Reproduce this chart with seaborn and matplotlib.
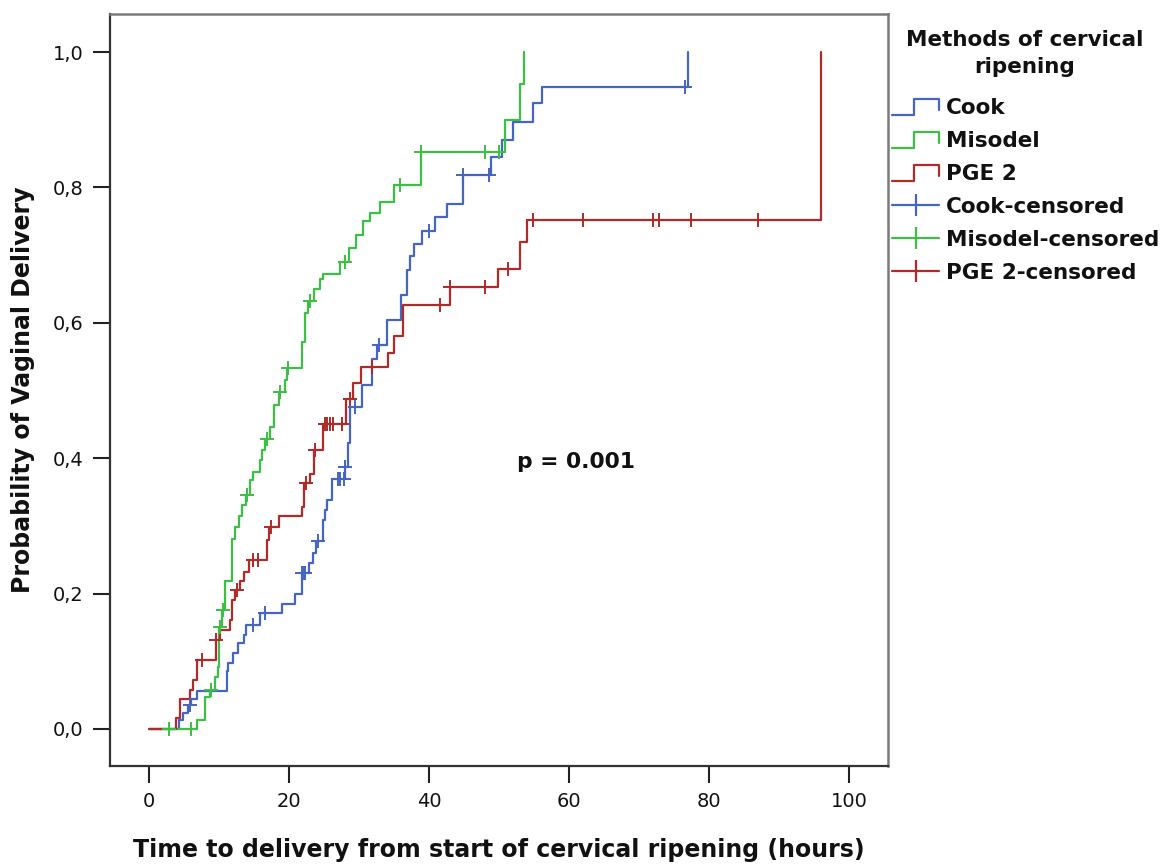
import numpy as np
import pandas as pd
import matplotlib
matplotlib.use("Agg")
import matplotlib.pyplot as plt
from matplotlib.lines import Line2D
from matplotlib.legend_handler import HandlerBase
import seaborn as sns

# ---------------- data ----------------
groups = ["Cook", "Misodel", "PGE 2"]

cook_t = [0, 4.3, 4.9, 5.5, 6.0, 6.9, 11.1, 11.3, 12.0, 12.7, 13.5, 13.9, 15.8, 19.0, 20.9,
          21.9, 22.9, 23.4, 23.9, 24.9, 25.2, 25.4, 26.1, 28.0, 28.4, 28.7, 30.4, 31.8,
          32.6, 34.0, 36.0, 36.8, 37.3, 37.8, 39.0, 40.9, 42.6, 44.9, 48.9, 50.4, 52.0,
          54.9, 56.1, 77.0]
cook_p = [0, .013, .023, .035, .045, .056, .085, .097, .112, .127, .139, .154, .171, .185, .200,
          .230, .245, .260, .277, .309, .323, .338, .370, .387, .422, .476, .508, .547,
          .567, .604, .641, .678, .698, .717, .735, .757, .776, .818, .845, .870, .897,
          .924, .949, 1.0]
cook_cens = [5.8, 14.8, 16.6, 21.9, 22.1, 22.3, 24.2, 27.0, 27.3, 27.8, 28.0, 29.4, 32.8,
             40.0, 44.9, 48.5, 76.6]

miso_t = [0, 6.9, 8.0, 8.7, 9.4, 9.9, 10.0, 10.4, 10.9, 11.9, 12.3, 12.8, 13.3, 13.8, 14.4,
          14.9, 15.9, 16.2, 16.6, 17.3, 17.8, 18.5, 19.4, 19.7, 21.8, 22.3, 22.7, 23.5, 24.4,
          24.8, 27.3, 28.6, 29.5, 30.5, 31.5, 33.0, 35.0, 38.9, 50.9, 53.0, 53.5]
miso_p = [0, .014, .048, .058, .077, .092, .151, .176, .218, .281, .299, .314, .331, .346, .368,
          .380, .397, .412, .429, .446, .479, .498, .516, .533, .572, .614, .632, .650, .665,
          .672, .690, .710, .730, .750, .762, .778, .804, .853, .900, .953, 1.0]
miso_cens = [2.9, 6.0, 8.9, 10.2, 10.6, 14.0, 16.8, 18.7, 19.9, 23.0, 28.0, 35.8, 38.9,
             48.0, 50.0]

pge_t = [0, 3.9, 4.4, 5.9, 6.3, 6.8, 9.5, 10.1, 11.6, 11.9, 12.3, 13.0, 13.6, 14.3, 16.8,
         17.2, 18.5, 21.8, 22.2, 23.0, 23.6, 24.9, 28.2, 29.1, 30.3, 34.2, 35.0, 36.3, 43.0,
         49.9, 53.0, 54.0, 96.0]
pge_p = [0, .016, .045, .058, .072, .102, .131, .146, .161, .190, .205, .218, .232, .250, .279,
         .299, .314, .328, .363, .377, .412, .451, .488, .511, .535, .555, .580, .627, .653,
         .680, .720, .752, 1.0]
pge_cens = [7.5, 9.5, 12.5, 14.9, 15.6, 17.4, 22.4, 23.7, 25.1, 25.4, 25.9, 26.3, 27.5,
            28.7, 31.8, 41.5, 43.0, 48.0, 51.3, 54.9, 62.0, 72.0, 72.9, 77.4, 87.0]

x_ticks = [0, 20, 40, 60, 80, 100]
y_ticks = [0.0, 0.2, 0.4, 0.6, 0.8, 1.0]
y_tick_labels = ["0,0", "0,2", "0,4", "0,6", "0,8", "1,0"]
p_text = "p = 0.001"
legend_title = "Methods of cervical\nripening"
colors = {"Cook": "#4565C2", "Misodel": "#3DBE45", "PGE 2": "#B02A2A"}

# ---------------- build tables ----------------
steps = {"Cook": (cook_t, cook_p, cook_cens),
         "Misodel": (miso_t, miso_p, miso_cens),
         "PGE 2": (pge_t, pge_p, pge_cens)}
rows, crows = [], []
for g in groups:
    t, p, c = steps[g]
    assert len(t) == len(p), g
    for ti, pi in zip(t, p):
        rows.append((g, ti, pi))
    ta, pa = np.asarray(t), np.asarray(p)
    for ci in c:
        idx = np.searchsorted(ta, ci, side="right") - 1
        crows.append((g, ci, pa[idx]))
df = pd.DataFrame(rows, columns=["group", "time", "prob"])
cdf = pd.DataFrame(crows, columns=["group", "time", "prob"])

# ---------------- plot ----------------
sns.set_theme(style="white")
plt.rcParams["font.family"] = ["DejaVu Sans"]

W, H = 1165, 865
fig = plt.figure(figsize=(W / 100, H / 100), dpi=100)
L, R, T, B = 110, 888, 14, 766
ax = fig.add_axes([L / W, 1 - B / H, (R - L) / W, (B - T) / H])

for g in groups:
    sub = df[df.group == g]
    sns.lineplot(data=sub, x="time", y="prob", color=colors[g], drawstyle="steps-post",
                 estimator=None, sort=True, lw=1.6, ax=ax, legend=False)
for g in groups:
    sub = cdf[cdf.group == g]
    ax.plot(sub.time, sub.prob, ls="none", marker="+", ms=10, mew=1.4, color=colors[g])

ax.set_xlim(-39 / 7, 739 / 7)
ax.set_ylim((729 - 766) / 677, (729 - 14) / 677)
ax.set_xticks(x_ticks)
ax.set_xticklabels([str(v) for v in x_ticks])
ax.set_yticks(y_ticks)
ax.set_yticklabels(y_tick_labels)
ax.tick_params(axis="both", which="major", direction="out", length=12, width=1.5,
               color="#222222", labelsize=14, pad=7, bottom=True, left=True,
               labelcolor="#111111")
for s in ["left", "bottom"]:
    ax.spines[s].set_color("#333333")
    ax.spines[s].set_linewidth(1.6)
for s in ["top", "right"]:
    ax.spines[s].set_color("#7a7a7a")
    ax.spines[s].set_linewidth(1.8)

ax.set_xlabel("Time to delivery from start of cervical ripening (hours)",
              fontsize=17, fontweight="bold", labelpad=19, color="#111111")
ax.set_ylabel("Probability of Vaginal Delivery", fontsize=17, fontweight="bold",
              labelpad=13, color="#111111")
ax.text(61, 0.394, p_text, ha="center", va="center", fontsize=15.7, fontweight="bold",
        color="#111111")


# ---------------- legend ----------------
class StepHandler(HandlerBase):
    def create_artists(self, legend, orig_handle, xdescent, ydescent, width, height,
                       fontsize, trans):
        x0, y0 = -xdescent, -ydescent
        xm = x0 + 0.47 * width
        xs = [x0, xm, xm, x0 + width, x0 + width]
        ys = [y0 - 0.05 * height, y0 - 0.05 * height, y0 + 1.0 * height,
              y0 + 1.0 * height, y0 + 0.25 * height]
        ln = Line2D(xs, ys, color=orig_handle.get_color(), lw=1.6)
        ln.set_transform(trans)
        return [ln]


handles, labels = [], []
step_handles = []
for g in groups:
    h = Line2D([], [], color=colors[g])
    step_handles.append(h)
    handles.append(h)
    labels.append(g)
for g in groups:
    handles.append(Line2D([], [], color=colors[g], lw=1.6, marker="|", ms=16, mew=1.6))
    labels.append(f"{g}-censored")

hmap = {h: StepHandler() for h in step_handles}
leg = fig.legend(handles, labels, handler_map=hmap, loc="upper left",
                 bbox_to_anchor=(892 / W, 1 - 98 / H), frameon=False,
                 prop={"weight": "bold", "size": 15.5},
                 handlelength=2.2, handletextpad=0.3, labelspacing=0.6,
                 borderpad=0, borderaxespad=0)
for t in leg.get_texts():
    t.set_color("#111111")

fig.text(1025 / W, 1 - 53.5 / H, legend_title, ha="center", va="center",
         multialignment="center", linespacing=1.4, fontsize=15.5, fontweight="bold",
         color="#111111")

fig.savefig("out.png", dpi=100, facecolor="white")
